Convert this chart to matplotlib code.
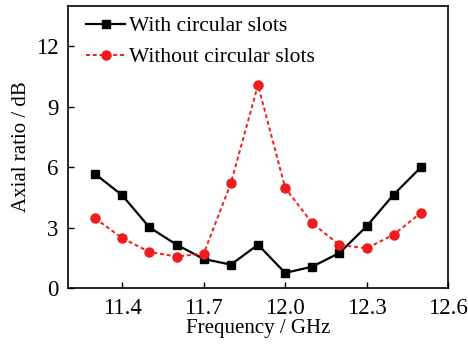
import matplotlib
matplotlib.use("Agg")
import matplotlib.pyplot as plt

freq = [11.3, 11.4, 11.5, 11.6, 11.7, 11.8, 11.9, 12.0, 12.1, 12.2, 12.3, 12.4, 12.5]
with_slots = [5.66, 4.60, 3.01, 2.15, 1.44, 1.16, 2.15, 0.75, 1.06, 1.74, 3.06, 4.64, 5.99]
without_slots = [3.46, 2.47, 1.79, 1.56, 1.71, 5.20, 10.08, 4.98, 3.21, 2.14, 1.97, 2.65, 3.73]
xticks = [11.4, 11.7, 12.0, 12.3, 12.6]
yticks = [0, 3, 6, 9, 12]

plt.rcParams['font.family'] = ['Liberation Serif', 'DejaVu Serif']
plt.rcParams['font.size'] = 15

fig = plt.figure(figsize=(4.68, 3.44), dpi=100)
ax = fig.add_axes([68/468, 1-288/344, (448-68)/468, (288-6)/344])

ax.plot(freq, with_slots, color='black', lw=1.6, marker='s', ms=6, label='With circular slots')
ax.plot(freq, without_slots, color='#ee1c1c', lw=1.4, ls=(0, (2, 1.5)), marker='o', ms=6.5,
        label='Without circular slots')

ax.set_xlim(11.2, 12.6)
ax.set_ylim(0, 14)
ax.set_xticks(xticks)
ax.set_xticklabels([f"{t:.1f}" for t in xticks])
ax.set_yticks(yticks)
ax.tick_params(direction='in', length=4, width=1, top=False, right=False, pad=7, labelsize=16.5)
for s in ax.spines.values():
    s.set_linewidth(1.2)
ax.set_xlabel('Frequency / GHz', labelpad=0)
ax.set_ylabel('Axial ratio / dB', labelpad=3)
ax.legend(loc='upper left', bbox_to_anchor=(0.0, 1.028), frameon=False, handlelength=1.8,
          handletextpad=0.2, borderaxespad=0.45, labelspacing=0.5, fontsize=15.5)

fig.savefig('out.png', dpi=100)
